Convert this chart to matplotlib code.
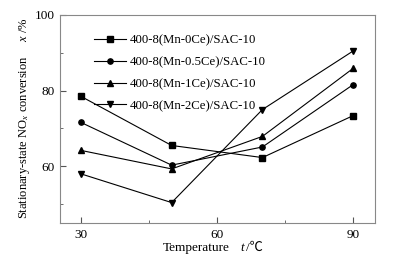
import numpy as np
import matplotlib
matplotlib.use('Agg')
import matplotlib.pyplot as plt
from matplotlib.ticker import MultipleLocator

plt.rcParams['font.family'] = ['Liberation Serif', 'Noto Sans CJK SC', 'DejaVu Sans']
plt.rcParams['mathtext.fontset'] = 'custom'
plt.rcParams['mathtext.rm'] = 'Liberation Serif'
plt.rcParams['mathtext.it'] = 'Liberation Serif:italic'

# temperature (C) and conversion (%)
temps = [30, 50, 70, 90]
mn0ce = [78.5, 65.5, 62.3, 73.4]
mn05ce = [71.6, 60.3, 65.1, 81.6]
mn1ce = [64.2, 59.3, 67.9, 85.9]
mn2ce = [58.0, 50.4, 75.0, 90.5]
labels = ['400-8(Mn-0Ce)/SAC-10', '400-8(Mn-0.5Ce)/SAC-10',
          '400-8(Mn-1Ce)/SAC-10', '400-8(Mn-2Ce)/SAC-10']
markers = ['s', 'o', '^', 'v']

W, H = 394, 258
fig = plt.figure(figsize=(W/100, H/100), dpi=100)
ax = fig.add_axes([60/W, 1-223/H, 315/W, 208/H])

for ys, lab, m in zip([mn0ce, mn05ce, mn1ce, mn2ce], labels, markers):
    ax.plot(temps, ys, color='black', lw=0.8, marker=m, ms=3.8, label=lab)

ax.set_xlim(25.4, 94.8)
ax.set_ylim(45, 100)
ax.xaxis.set_major_locator(MultipleLocator(30))
ax.xaxis.set_minor_locator(MultipleLocator(15))
ax.yaxis.set_major_locator(MultipleLocator(20))
ax.yaxis.set_minor_locator(MultipleLocator(10))
ax.tick_params(which='both', direction='in', labelsize=9.5, color='#555555', pad=4)
ax.tick_params(which='major', length=4)
ax.tick_params(which='minor', length=2)
for s in ax.spines.values():
    s.set_color('#888888')
    s.set_linewidth(0.8)

# x label pieces (the degree sign needs a font fallback, so keep it out of mathtext)
fig.text(196/W, 1-248/H, 'Temperature', fontsize=9.5, ha='center', va='center')
fig.text(242/W, 1-248/H, 't', fontsize=9.5, style='italic', ha='center', va='center')
fig.text(246/W, 1-248/H, '/\u2103', fontsize=9.5, ha='left', va='center')

fig.text(25/W, 1-118/H, 'Stationary-state NO$_x$ conversion     $x$ /%',
         fontsize=9, rotation=90, ha='center', va='center')

leg = ax.legend(loc='upper left', bbox_to_anchor=(0.108, 0.905), frameon=False,
                fontsize=9.2, handlelength=2.5, labelspacing=0.76, handletextpad=0.3,
                borderaxespad=0, borderpad=0)

fig.savefig('out.png', dpi=100)
